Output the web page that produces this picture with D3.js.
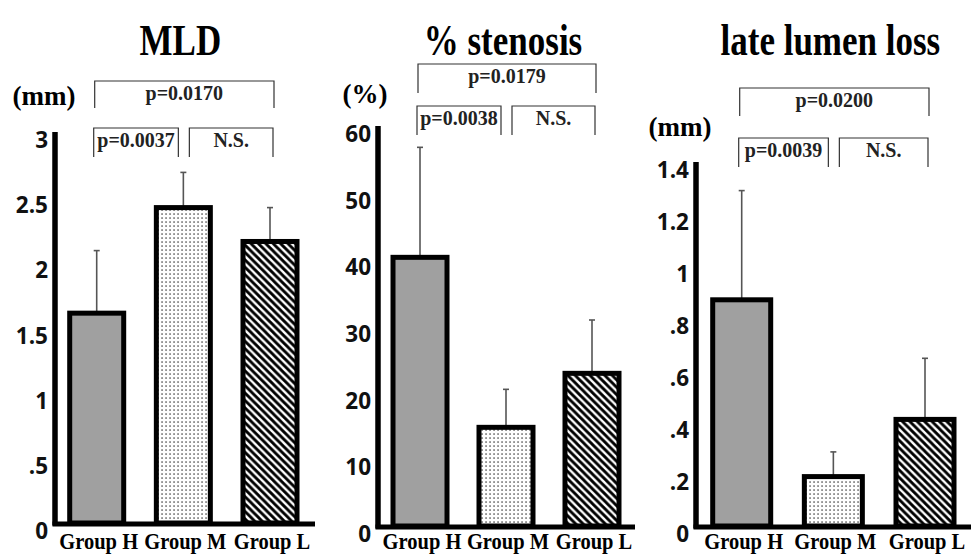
<!DOCTYPE html>
<html><head><meta charset="utf-8">
<script src="https://cdn.jsdelivr.net/npm/d3@7"></script>
<style>body{margin:0;background:#fff}</style>
</head><body><svg id="c" width="971" height="554"></svg>
<script>
const groups = ["Group H","Group M","Group L"];
const titles = ["MLD","% stenosis","late lumen loss"];
const units = ["(mm)","(%)","(mm)"];
const mldMean = [1.61,2.42,2.16];
const mldSD = [0.48,0.27,0.26];
const stenosisMean = [40.3,14.8,22.9];
const stenosisSD = [16.5,5.7,8.0];
const lllMean = [0.87,0.19,0.41];
const lllSD = [0.42,0.095,0.235];
const mldTicks = [0,0.5,1,1.5,2,2.5,3];
const mldTickLabels = ["0",".5","1","1.5","2","2.5","3"];
const stenosisTicks = [0,10,20,30,40,50,60];
const stenosisTickLabels = ["0","10","20","30","40","50","60"];
const lllTicks = [0,0.2,0.4,0.6,0.8,1,1.2,1.4];
const lllTickLabels = ["0",".2",".4",".6",".8","1","1.2","1.4"];
// comparisons: [H vs L, H vs M, M vs L]
const mldP = ["p=0.0170","p=0.0037","N.S."];
const stenosisP = ["p=0.0179","p=0.0038","N.S."];
const lllP = ["p=0.0200","p=0.0039","N.S."];

const panels = [
  {title:titles[0], unit:units[0], mean:mldMean, sd:mldSD, ticks:mldTicks, tl:mldTickLabels, p:mldP},
  {title:titles[1], unit:units[1], mean:stenosisMean, sd:stenosisSD, ticks:stenosisTicks, tl:stenosisTickLabels, p:stenosisP},
  {title:titles[2], unit:units[2], mean:lllMean, sd:lllSD, ticks:lllTicks, tl:lllTickLabels, p:lllP}
];
const layout = [
 {axisX:55, y0:523, yTop:132, xFirst:96.7, xLast:270, barW:54, baseEnd:315, unitX:44, unitY:105, brTop:[81,108], brLow:[128,157]},
 {axisX:378, y0:526, yTop:126, xFirst:420, xLast:592, barW:54, baseEnd:635, unitX:365, unitY:103, brTop:[64,93], brLow:[106,135]},
 {axisX:696, y0:526, yTop:162, xFirst:741.7, xLast:925, barW:58, baseEnd:975, unitX:680, unitY:136, brTop:[88,116], brLow:[138,167]}
];

const svg = d3.select("#c");
const defs = svg.append("defs");
const dots = defs.append("pattern").attr("id","dots").attr("patternUnits","userSpaceOnUse")
  .attr("width",4).attr("height",4);
dots.append("rect").attr("width",4).attr("height",4).attr("fill","#fff");
dots.append("rect").attr("x",1.4).attr("y",1.4).attr("width",1.3).attr("height",1.3).attr("fill","#222");
const hs = 7.4;
const hatch = defs.append("pattern").attr("id","hatch").attr("patternUnits","userSpaceOnUse")
  .attr("width",hs).attr("height",hs);
hatch.append("rect").attr("width",hs).attr("height",hs).attr("fill","#fff");
hatch.append("path").attr("d",`M-1,-1L${hs+1},${hs+1}M-1,${hs-1}L1,${hs+1}M${hs-1},-1L${hs+1},1`)
  .attr("stroke","#000").attr("stroke-width",2.8);
const fills = ["#a0a0a0","url(#dots)","url(#hatch)"];

const serif = "'Liberation Serif','Times New Roman',serif";
const sans = "'Open Sans','DejaVu Sans',sans-serif";

panels.forEach((P,i)=>{
  const L = layout[i];
  const g = svg.append("g");
  const y = d3.scaleLinear().domain([0, P.ticks[P.ticks.length-1]]).range([L.y0, L.yTop]);
  const x = d3.scalePoint().domain(groups).range([L.xFirst, L.xLast]);

  // title
  g.append("text").attr("transform",`translate(${(L.xFirst+L.xLast)/2-3},55) scale(1,1.25)`)
    .attr("text-anchor","middle").attr("font-family",serif).attr("font-weight","bold")
    .attr("font-size",35).text(P.title);
  // unit
  g.append("text").attr("x",L.unitX).attr("y",L.unitY).attr("text-anchor","middle")
    .attr("font-family",serif).attr("font-weight","bold").attr("font-size",27).text(P.unit);

  // tick labels
  g.selectAll(".tl").data(P.ticks).join("text")
    .attr("x",L.axisX-7).attr("y",d=>y(d)+16).attr("text-anchor","end")
    .attr("font-family",sans).attr("font-weight",700).attr("font-size",22.5)
    .attr("fill","#111").text((d,k)=>P.tl[k]);

  // error bars
  groups.forEach((grp,k)=>{
    const cx = x(grp);
    g.append("line").attr("x1",cx).attr("x2",cx).attr("y1",y(P.mean[k])).attr("y2",y(P.mean[k]+P.sd[k]))
      .attr("stroke","#555").attr("stroke-width",1.6);
    g.append("line").attr("x1",cx-3).attr("x2",cx+3).attr("y1",y(P.mean[k]+P.sd[k])).attr("y2",y(P.mean[k]+P.sd[k]))
      .attr("stroke","#555").attr("stroke-width",1.6);
  });
  // bars
  g.selectAll(".bar").data(groups).join("rect")
    .attr("x",d=>x(d)-L.barW/2).attr("width",L.barW)
    .attr("y",(d,k)=>y(P.mean[k])).attr("height",(d,k)=>y(0)-y(P.mean[k]))
    .attr("fill",(d,k)=>fills[k]).attr("stroke","#000").attr("stroke-width",5);

  // axes
  g.append("line").attr("x1",L.axisX).attr("x2",L.axisX).attr("y1",y(P.ticks[P.ticks.length-1])).attr("y2",y(0)+2.5)
    .attr("stroke","#000").attr("stroke-width",5.5);
  g.append("line").attr("x1",L.axisX-2.5).attr("x2",L.baseEnd).attr("y1",y(0)+1).attr("y2",y(0)+1)
    .attr("stroke","#000").attr("stroke-width",5);

  // x labels
  g.selectAll(".xl").data(groups).join("text")
    .attr("transform",d=>`translate(${x(d)+2},549) scale(1,1.15)`).attr("text-anchor","middle")
    .attr("font-family",serif).attr("font-weight","bold").attr("font-size",20.5).text(d=>d);

  // brackets
  const br = [
    {x1:x(groups[0])-2, x2:x(groups[2])+4, yy:L.brTop, t:P.p[0]},
    {x1:x(groups[0])-3, x2:x(groups[1])-5, yy:L.brLow, t:P.p[1]},
    {x1:x(groups[1])+6, x2:x(groups[2])+3, yy:L.brLow, t:P.p[2]}
  ];
  br.forEach(b=>{
    g.append("path").attr("d",`M${b.x1},${b.yy[1]}V${b.yy[0]}H${b.x2}V${b.yy[1]}`)
      .attr("fill","none").attr("stroke","#333").attr("stroke-width",1.2);
    g.append("text").attr("transform",`translate(${(b.x1+b.x2)/2},${b.yy[0]+19}) scale(1,1.1)`).attr("text-anchor","middle")
      .attr("font-family",serif).attr("font-weight","bold").attr("font-size",20).attr("fill","#222").text(b.t);
  });
});
</script></body></html>
